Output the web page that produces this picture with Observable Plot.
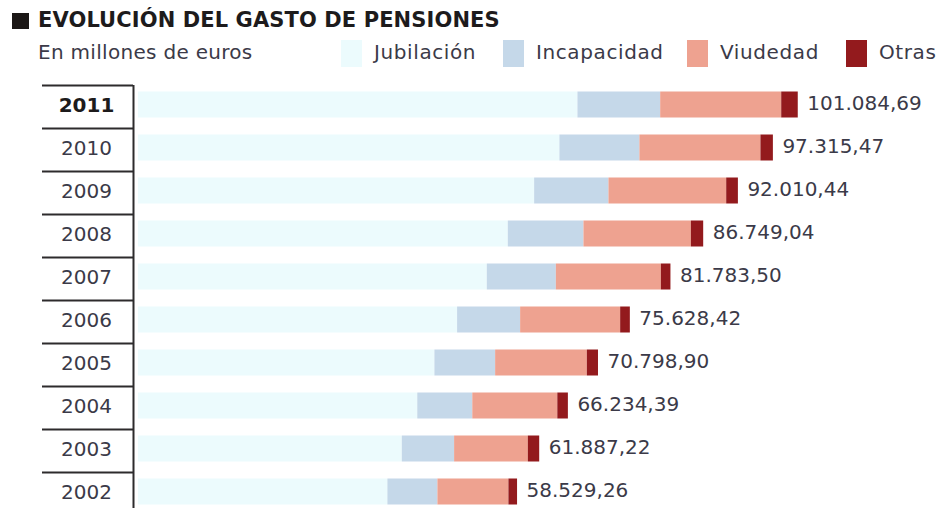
<!DOCTYPE html>
<html>
<head>
<meta charset="utf-8">
<script src="https://cdn.jsdelivr.net/npm/d3@7"></script>
<script src="https://cdn.jsdelivr.net/npm/@observablehq/plot@0.6"></script>
<style>
  html, body { margin: 0; padding: 0; background: #fff; }
  body { width: 939px; height: 508px; overflow: hidden; font-family: "DejaVu Sans", sans-serif; }
  #header { position: relative; width: 939px; height: 80px; }
  #sq { position: absolute; left: 12px; top: 13px; width: 17px; height: 16px; background: #1b1716; }
  #title { position: absolute; left: 38px; top: 6px; font-size: 21px; font-weight: bold; color: #1d1b1c; white-space: nowrap; line-height: 28px; letter-spacing: 0.1px; }
  #subtitle { position: absolute; left: 38px; top: 39px; font-size: 20px; color: #3b3a48; white-space: nowrap; line-height: 26px; letter-spacing: 0.3px; }
  .leg { position: absolute; top: 40px; height: 27px; display: flex; align-items: center; }
  .leg span.sw { display: inline-block; width: 21px; height: 27px; margin-right: 12px; }
  .leg span.lb { font-size: 20px; color: #3b3a48; letter-spacing: 0.6px; white-space: nowrap; position: relative; top: -2px; }
  #chart svg { display: block; }
</style>
</head>
<body>
<div id="header">
  <div id="sq"></div>
  <div id="title"></div>
  <div id="subtitle"></div>
  <div id="legend"></div>
</div>
<div id="chart"></div>
<script>
const titleText = "EVOLUCIÓN DEL GASTO DE PENSIONES";
const subtitleText = "En millones de euros";
const seriesNames = ["Jubilación", "Incapacidad", "Viudedad", "Otras"];
const seriesColors = ["#ecfbfd", "#c5d8e9", "#eea290", "#931a1d"];
const years = [2011, 2010, 2009, 2008, 2007, 2006, 2005, 2004, 2003, 2002];
const jubilacion = [67686, 64950, 61119, 57130, 53945, 49440, 45999, 43400, 41054, 38870];
const incapacidad = [12542, 12130, 11268, 11466, 10465, 9555, 9206, 8341, 7932, 7583];
const viudedad = [18351, 18350, 17850, 16288, 15924, 15166, 13907, 12891, 11177, 10768];
const otras = [2506, 1885, 1773, 1865, 1450, 1467, 1687, 1602, 1724, 1308];
const totals = [101084.69, 97315.47, 92010.44, 86749.04, 81783.50, 75628.42, 70798.90, 66234.39, 61887.22, 58529.26];
const totalLabels = ["101.084,69", "97.315,47", "92.010,44", "86.749,04", "81.783,50", "75.628,42", "70.798,90", "66.234,39", "61.887,22", "58.529,26"];

// header
document.getElementById("title").textContent = titleText;
document.getElementById("subtitle").textContent = subtitleText;
const legendLefts = [341, 503, 687, 846];
const legend = document.getElementById("legend");
seriesNames.forEach((name, i) => {
  const d = document.createElement("div");
  d.className = "leg";
  d.style.left = legendLefts[i] + "px";
  const sw = document.createElement("span");
  sw.className = "sw";
  sw.style.background = seriesColors[i];
  const lb = document.createElement("span");
  lb.className = "lb";
  lb.textContent = name;
  d.appendChild(sw); d.appendChild(lb);
  legend.appendChild(d);
});

// build stacked table
const seriesValues = [jubilacion, incapacidad, viudedad, otras];
const rows = [];
years.forEach((yr, i) => {
  let acc = 0;
  seriesValues.forEach((vals, s) => {
    rows.push({year: yr, series: seriesNames[s], x1: acc, x2: acc + vals[i]});
    acc += vals[i];
  });
});
const labelRows = years.map((yr, i) => ({year: yr, total: totals[i], label: totalLabels[i]}));

const W = 939, H = 428;
const textColor = "#3b3a48";
const lineColor = "#2d2b2c";
const bw = 43;

const chart = Plot.plot({
  width: W,
  height: H,
  marginLeft: 131,
  marginRight: 0,
  marginTop: 5,
  marginBottom: 0,
  style: {fontFamily: "DejaVu Sans", background: "#fff", overflow: "hidden"},
  x: {domain: [0, 122500], axis: null},
  y: {type: "band", domain: years, range: [5, 5 + bw * years.length], padding: 0, axis: null},
  color: {domain: seriesNames, range: seriesColors},
  marks: [
    Plot.barX(rows.filter(d => d.series === "Jubilación"), {x1: "x1", x2: "x2", y: "year", fill: "series", insetTop: 6.5, insetBottom: 10.5, insetLeft: 7}),
    Plot.barX(rows.filter(d => d.series !== "Jubilación"), {x1: "x1", x2: "x2", y: "year", fill: "series", insetTop: 6.5, insetBottom: 10.5}),
    Plot.ruleY(years, {y: d => d, dy: -bw / 2, insetLeft: -89, insetRight: W - 133, stroke: lineColor, strokeWidth: 2}),
    Plot.ruleX([0], {dx: 2, stroke: lineColor, strokeWidth: 2}),
    Plot.text(years.filter(d => d !== 2011), {y: d => d, text: d => String(d), frameAnchor: "left", dx: -45, dy: -1.5, textAnchor: "middle", fontSize: 20, fill: textColor}),
    Plot.text(years.filter(d => d === 2011), {y: d => d, text: d => String(d), frameAnchor: "left", dx: -45, dy: -1.5, textAnchor: "middle", fontSize: 20, fontWeight: "bold", fill: "#1d1b1c"}),
    Plot.text(labelRows, {x: "total", y: "year", text: "label", dx: 9, dy: -3, textAnchor: "start", fontSize: 20, fill: textColor})
  ]
});
document.getElementById("chart").appendChild(chart);
</script>
</body>
</html>
